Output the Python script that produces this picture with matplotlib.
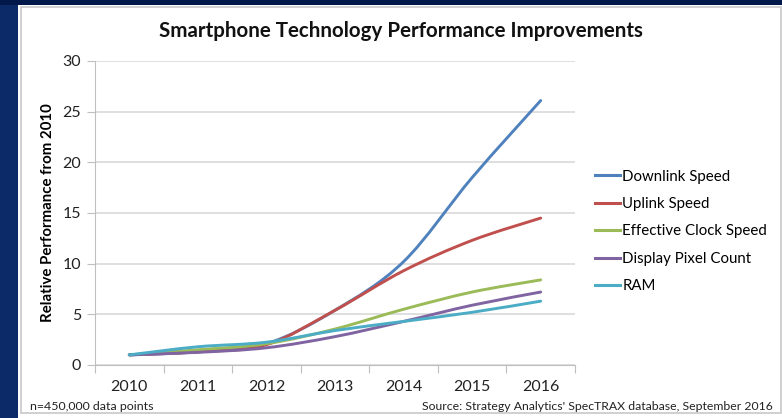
import matplotlib.pyplot as plt
from matplotlib.path import Path
from matplotlib.patches import PathPatch, Rectangle
from matplotlib.lines import Line2D

plt.rcParams['font.family'] = ['Lato', 'DejaVu Sans']

years = ['2010', '2011', '2012', '2013', '2014', '2015', '2016']
downlink = [1.0, 1.3, 2.1, 5.4, 10.2, 18.5, 26.1]
uplink = [1.0, 1.3, 2.0, 5.4, 9.3, 12.3, 14.5]
clock = [1.0, 1.5, 2.1, 3.55, 5.5, 7.2, 8.4]
pixels = [1.0, 1.25, 1.7, 2.8, 4.3, 5.9, 7.2]
ram = [1.0, 1.8, 2.25, 3.4, 4.3, 5.2, 6.3]

names = ['Downlink Speed', 'Uplink Speed', 'Effective Clock Speed',
         'Display Pixel Count', 'RAM']
series = [downlink, uplink, clock, pixels, ram]
colors = ['#4F81BD', '#C0504D', '#9BBB59', '#8064A2', '#4BACC6']


def smooth_path(xs, ys):
    # excel style smoothed line: cubic bezier through the data points
    pts = list(zip(xs, ys))
    n = len(pts)
    verts = [pts[0]]
    codes = [Path.MOVETO]
    for i in range(n - 1):
        p0 = pts[max(i - 1, 0)]
        p1 = pts[i]
        p2 = pts[i + 1]
        p3 = pts[min(i + 2, n - 1)]
        c1 = (p1[0] + (p2[0] - p0[0]) / 6, p1[1] + (p2[1] - p0[1]) / 6)
        c2 = (p2[0] - (p3[0] - p1[0]) / 6, p2[1] - (p3[1] - p1[1]) / 6)
        verts += [c1, c2, p2]
        codes += [Path.CURVE4] * 3
    return Path(verts, codes)


fig = plt.figure(figsize=(7.82, 4.18), dpi=100, facecolor='#0c2a68')
W, H = 782, 418
fig.patches.append(Rectangle((0, 1 - 5 / H), 1, 5 / H, transform=fig.transFigure,
                             facecolor='#03184a', edgecolor='none', zorder=-2))
fig.patches.append(Rectangle((18 / W, 0), 1 - 18 / W, 1 - 5 / H, transform=fig.transFigure,
                             facecolor='white', edgecolor='none', zorder=-2))
fig.patches.append(Rectangle((21 / W, 5 / H), 1 - 22 / W, 1 - 12 / H, transform=fig.transFigure,
                             facecolor='none', edgecolor='#c8c8c8', linewidth=1.2, zorder=-1))

ax = fig.add_axes([95 / W, 1 - 365 / H, 480 / W, 304 / H])
ax.set_zorder(2)
ax.set_facecolor('none')
x = list(range(len(years)))
for vals, c in zip(series, colors):
    ax.add_patch(PathPatch(smooth_path(x, vals), facecolor='none', edgecolor=c,
                           linewidth=2.1, capstyle='round', zorder=3))

ax.set_xlim(-0.5, 6.5)
ax.set_ylim(0, 30)
ax.set_yticks(range(0, 31, 5))
ax.set_xticks([i - 0.5 for i in range(8)])
ax.set_xticklabels([])
ax.set_xticks(x, minor=True)
ax.set_xticklabels(years, minor=True)
ax.tick_params(axis='x', which='major', length=6, color='#bfbfbf', direction='out')
ax.tick_params(axis='x', which='minor', length=0, pad=11, labelsize=11.5, labelcolor='#222222')
ax.tick_params(axis='y', length=6, color='#bfbfbf', labelsize=11.5, labelcolor='#222222', pad=4)
ax.grid(axis='y', color='#d9d9d9', linewidth=1.2)
ax.set_axisbelow(True)
for s in ['top', 'right']:
    ax.spines[s].set_visible(False)
ax.spines['left'].set_color('#bfbfbf')
ax.spines['bottom'].set_color('#bfbfbf')
ax.set_ylabel('Relative Performance from 2010', fontsize=10.8, fontweight='bold', labelpad=5)

handles = [Line2D([], [], color=c, linewidth=2.2) for c in colors]
fig.legend(handles, names, loc='upper left', bbox_to_anchor=(581 / W, 1 - 156 / H),
           frameon=False, fontsize=10.8, handlelength=1.7, handletextpad=0.15,
           labelspacing=0.9)

fig.text(401 / W, 1 - 31 / H, 'Smartphone Technology Performance Improvements',
         ha='center', va='center', fontsize=14.8, fontweight='bold', color='#111111')
fig.text(30 / W, 1 - 407 / H, 'n=450,000 data points', ha='left', va='center',
         fontsize=8.9, color='#222222')
fig.text(773 / W, 1 - 406 / H, "Source: Strategy Analytics' SpecTRAX database, September 2016",
         ha='right', va='center', fontsize=8.8, color='#222222')

fig.savefig('out.png', dpi=100, facecolor=fig.get_facecolor())
